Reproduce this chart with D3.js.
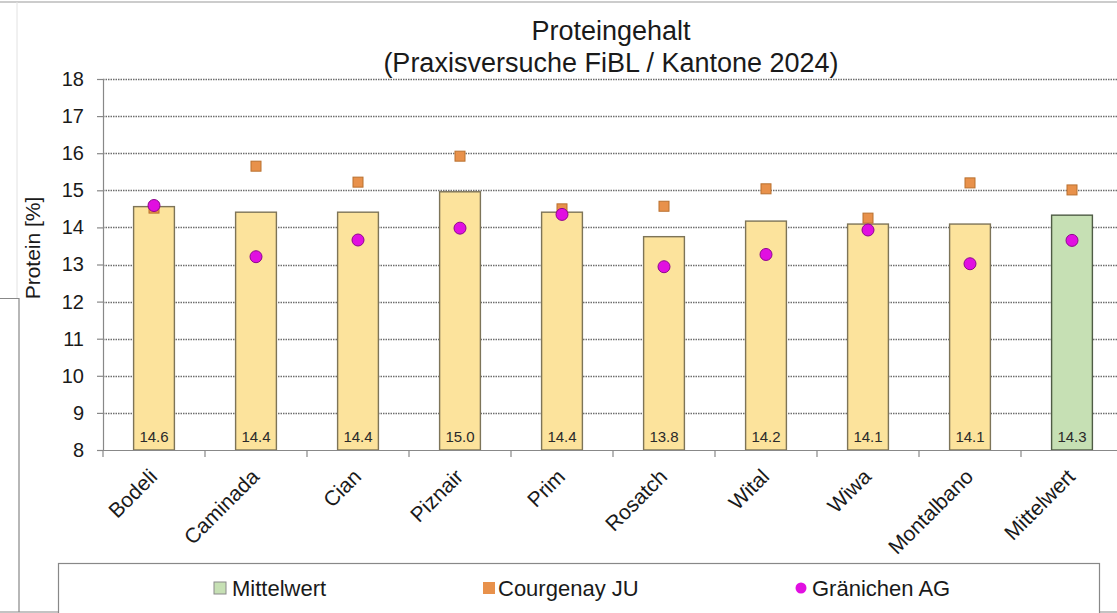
<!DOCTYPE html>
<html><head><meta charset="utf-8">
<script src="https://cdn.jsdelivr.net/npm/d3@7"></script>
<style>
body{margin:0;background:#fff;}
svg{display:block;font-family:"Liberation Sans",Arial,sans-serif;}
</style>
</head><body>
<svg id="chart" width="1117" height="613"></svg>
<script>
// ---- data ----
const categories = ["Bodeli","Caminada","Cian","Piznair","Prim","Rosatch","Wital","Wiwa","Montalbano","Mittelwert"];
const barValues  = [14.56, 14.41, 14.41, 14.96, 14.41, 13.75, 14.17, 14.09, 14.09, 14.33];
const barLabels  = ["14.6","14.4","14.4","15.0","14.4","13.8","14.2","14.1","14.1","14.3"];
const courgenay  = [14.52, 15.65, 15.22, 15.92, 14.50, 14.57, 15.04, 14.25, 15.20, 15.01];
const graenichen = [14.59, 13.21, 13.66, 13.98, 14.35, 12.94, 13.27, 13.93, 13.02, 13.65];
const yTicks     = [8, 9, 10, 11, 12, 13, 14, 15, 16, 17, 18];
const titleLines = ["Proteingehalt", "(Praxisversuche FiBL / Kantone 2024)"];
const yLabel     = "Protein [%]";
const legendItems = ["Mittelwert", "Courgenay JU", "Gränichen AG"];

// ---- layout ----
const svg = d3.select("#chart");
const W = 1117;
const x = d3.scaleBand().domain(categories).range([103, 1123]).paddingInner(0.6).paddingOuter(0.3);
const y = d3.scaleLinear().domain([8, 18]).range([450, 79]);
const step = x.step();
const x0 = x.range()[0];

const yellowFill = "#FCE39C", yellowStroke = "#7d7458";
const greenFill = "#C6E0B4", greenStroke = "#4f5c45";
const orange = "#E8914B", orangeStroke = "#B9702F";
const magenta = "#E10FE1", magentaStroke = "#8E078E";

// outer frame fragments
svg.append("line").attr("x1",0).attr("x2",W).attr("y1",2).attr("y2",2).attr("stroke","#9a9a9a").attr("stroke-width",1.2);
svg.append("line").attr("x1",17).attr("x2",17).attr("y1",2).attr("y2",298).attr("stroke","#e2e2e2").attr("stroke-width",1);
svg.append("path").attr("d","M0,298.5H19V612").attr("fill","none").attr("stroke","#888").attr("stroke-width",1.2);
svg.append("line").attr("x1",0).attr("x2",W).attr("y1",612).attr("y2",612).attr("stroke","#888").attr("stroke-width",1.2);

// title
svg.append("g").selectAll("text").data(titleLines).join("text")
  .attr("x", 611).attr("y", (d,i) => i === 0 ? 40 : 72)
  .attr("text-anchor","middle").attr("font-size", 27).attr("fill","#1a1a1a").text(d => d);

// gridlines
svg.append("g").selectAll("line").data(yTicks.filter(t => t > 8)).join("line")
  .attr("x1", 103).attr("x2", W)
  .attr("y1", d => Math.round(y(d)) + 0.5).attr("y2", d => Math.round(y(d)) + 0.5)
  .attr("stroke", "#6e6e6e").attr("stroke-width", 1.5).attr("stroke-dasharray", "1.5,1");

// y axis
const yAxis = svg.append("g").attr("transform","translate(103,0)")
  .call(d3.axisLeft(y).tickValues(yTicks).tickSize(6).tickPadding(13).tickFormat(d3.format("d")));
yAxis.select(".domain").attr("stroke","#888").attr("stroke-width",1.2);
yAxis.selectAll(".tick line").attr("stroke","#888").attr("stroke-width",1.2);
yAxis.selectAll(".tick text").attr("font-size",20).attr("fill","#1a1a1a").attr("font-family","Liberation Sans, Arial, sans-serif");

// y label
svg.append("text").attr("transform","translate(40,248) rotate(-90)")
  .attr("text-anchor","middle").attr("font-size",21).attr("fill","#1a1a1a").text(yLabel);

// bars
svg.append("g").selectAll("rect").data(categories).join("rect")
  .attr("x", d => x(d)).attr("width", x.bandwidth())
  .attr("y", (d,i) => y(barValues[i])).attr("height", (d,i) => y(8) - y(barValues[i]))
  .attr("fill", (d,i) => i === categories.length - 1 ? greenFill : yellowFill)
  .attr("stroke", (d,i) => i === categories.length - 1 ? greenStroke : yellowStroke)
  .attr("stroke-width", 1.4);

// bar value labels
svg.append("g").selectAll("text").data(categories).join("text")
  .attr("x", d => x(d) + x.bandwidth()/2).attr("y", 442)
  .attr("text-anchor","middle").attr("font-size",15).attr("fill","#2a2a2a")
  .text((d,i) => barLabels[i]);

// x axis line + ticks
svg.append("line").attr("x1",97).attr("x2",W).attr("y1",450.5).attr("y2",450.5).attr("stroke","#888").attr("stroke-width",1.2);
svg.append("g").selectAll("line").data(d3.range(categories.length + 1)).join("line")
  .attr("x1", k => x0 + k*step).attr("x2", k => x0 + k*step)
  .attr("y1", 450).attr("y2", 457).attr("stroke","#888").attr("stroke-width",1.2);

// category labels
svg.append("g").selectAll("text").data(categories).join("text")
  .attr("transform", d => `translate(${x(d) + x.bandwidth()/2 + 4.5},478) rotate(-45)`)
  .attr("text-anchor","end").attr("font-size",21).attr("fill","#1a1a1a").text(d => d);

// Courgenay squares
const sq = 10;
svg.append("g").selectAll("rect").data(categories).join("rect")
  .attr("x", d => x(d) + x.bandwidth()/2 - sq/2)
  .attr("y", (d,i) => y(courgenay[i]) - sq/2)
  .attr("width", sq).attr("height", sq)
  .attr("fill", orange).attr("stroke", orangeStroke).attr("stroke-width", 1);

// Gränichen dots
svg.append("g").selectAll("circle").data(categories).join("circle")
  .attr("cx", d => x(d) + x.bandwidth()/2)
  .attr("cy", (d,i) => y(graenichen[i]))
  .attr("r", 6)
  .attr("fill", magenta).attr("stroke", magentaStroke).attr("stroke-width", 1);

// legend
const lg = svg.append("g");
lg.append("rect").attr("x",58.5).attr("y",563.5).attr("width",1041).attr("height",60)
  .attr("fill","#fff").attr("stroke","#888").attr("stroke-width",1.2);
const legendX = [214, 483, 801];
const textX = [232, 498, 812];
lg.append("rect").attr("x",legendX[0]).attr("y",582).attr("width",12).attr("height",12)
  .attr("fill",greenFill).attr("stroke","#8a8a8a").attr("stroke-width",1);
lg.append("rect").attr("x",legendX[1]).attr("y",582).attr("width",12).attr("height",12)
  .attr("fill",orange).attr("stroke","none");
lg.append("circle").attr("cx",legendX[2]).attr("cy",588).attr("r",5.5)
  .attr("fill",magenta).attr("stroke","none");
lg.selectAll("text").data(legendItems).join("text")
  .attr("x",(d,i) => textX[i]).attr("y",588).attr("dy","0.35em")
  .attr("font-size",22).attr("fill","#1a1a1a").text(d => d);
</script>
</body></html>
